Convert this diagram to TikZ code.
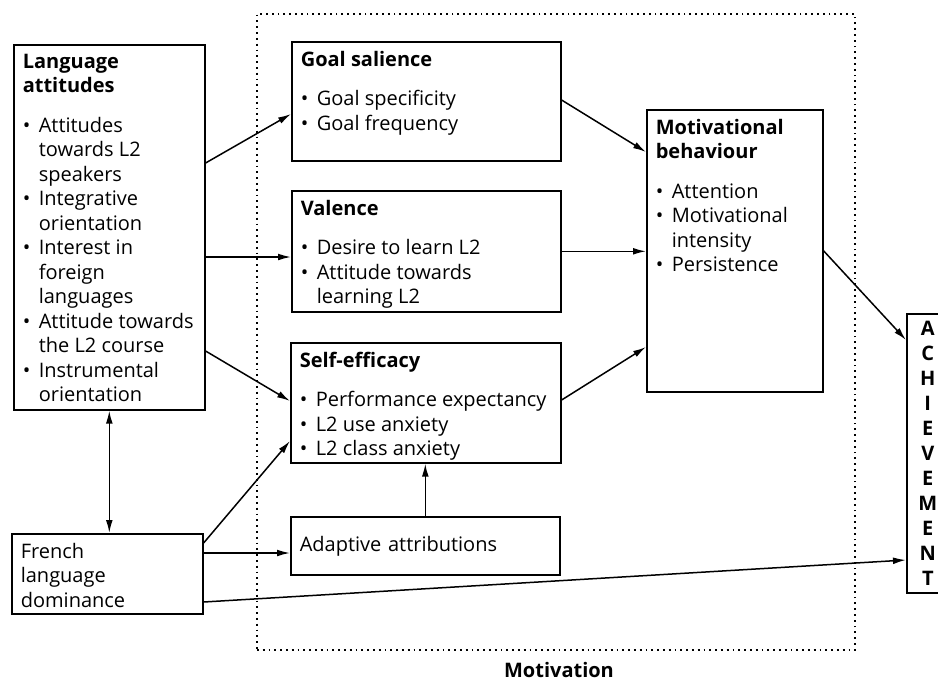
\documentclass[tikz,border=0pt]{standalone}
\usepackage{fontspec}
\setmainfont{Open Sans}
\usetikzlibrary{arrows.meta,calc}
\newcommand{\butir}{\makebox[8pt][l]{\textbullet}}
\newcommand{\sambung}{\hspace*{8pt}}

\begin{document}
\begin{tikzpicture}[x=0.5pt,y=-0.5pt,
    blok/.style={draw,line width=0.8pt,anchor=north west,inner sep=4.5pt,
      font=\fontsize{10pt}{12.25pt}\selectfont},
    panah/.style={-{Latex[length=6.5pt,width=3.4pt]},line width=0.75pt}]
  \useasboundingbox (0,0) rectangle (938,682);
  \clip (0,0) rectangle (938,682);
  % Bingkai motivasi
  \node[draw,dotted,line width=0.9pt,anchor=north west,inner sep=0pt,
    minimum width=299pt,minimum height=318pt] (motivasi) at (256,13) {};
  \node[font=\fontsize{10pt}{12pt}\selectfont\bfseries] (judul) at (559,670) {Motivation};
  % Faktor di kiri
  \node[blok] (bahasa) at (13,44) {\parbox[t][173.5pt][t]{86.5pt}{\raggedright
    \textbf{Language}\\\textbf{attitudes}\\[7.5pt]
    \butir Attitudes\\\sambung towards L2\\\sambung speakers\\
    \butir Integrative\\\sambung orientation\\
    \butir Interest in\\\sambung foreign\\\sambung languages\\
    \butir \mbox{Attitude towards}\\\sambung the L2 course\\
    \butir Instrumental\\\sambung orientation}};
  \node[blok] (prancis) at (11,533) {\parbox[t][31pt][t]{86.5pt}{\raggedright
    French\\language\\dominance}};
  % Komponen motivasi
  \node[blok] (sasaran) at (291,41) {\parbox[t][50.5pt][t]{125.5pt}{\raggedright
    \textbf{Goal salience}\\[7.5pt]
    \butir Goal specificity\\\butir Goal frequency}};
  \node[blok] (valensi) at (291,190) {\parbox[t][51.5pt][t]{125.5pt}{\raggedright
    \textbf{Valence}\\[7.5pt]
    \butir Desire to learn L2\\\butir \mbox{Attitude towards}\\\sambung learning L2}};
  \node[blok] (efikasi) at (290,342) {\parbox[t][51pt][t]{126pt}{\raggedright
    \textbf{Self-efficacy}\\[7.5pt]
    \butir \mbox{Performance expectancy}\\\butir L2 use anxiety\\\butir L2 class anxiety}};
  \node[blok,text width=125.5pt,minimum height=29pt,align=left] (atribusi) at (290,516)
    {Adaptive attributions};
  \node[blok] (perilaku) at (646,109) {\parbox[t][132pt][t]{79pt}{\raggedright
    \textbf{Motivational}\\\textbf{behaviour}\\[7.5pt]
    \butir Attention\\\butir Motivational\\\sambung intensity\\\butir Persistence}};
  % Hasil (sisi kanan terpotong tepi gambar)
  \node[blok,inner ysep=2pt,minimum width=21pt,minimum height=139.5pt,align=center,
    font=\fontsize{10pt}{12.5pt}\selectfont\bfseries] (prestasi) at (906,313)
    {A\\C\\H\\I\\E\\V\\E\\M\\E\\N\\T};
  % Panah
  \draw[panah] ($(bahasa.north east)+(0,119)$) -- ($(sasaran.north west)+(0,73)$);
  \draw[panah] ($(bahasa.north east)+(0,213)$) -- ($(valensi.north west)+(0,67)$);
  \draw[panah] ($(bahasa.north east)+(0,307)$) -- ($(efikasi.north west)+(0,59)$);
  \draw[{Latex[length=6.5pt,width=3.4pt]}-{Latex[length=6.5pt,width=3.4pt]},line width=0.75pt]
    (bahasa.south) -- (bahasa.south |- prancis.north);
  \draw[panah] ($(prancis.north east)+(0,10)$) -- ($(efikasi.north west)+(0,99)$);
  \draw[panah] ($(prancis.north east)+(0,20)$) -- ($(atribusi.north west)+(0,37)$);
  \draw[panah] ($(prancis.north east)+(0,69)$) -- ($(prestasi.north west)+(0,247)$);
  \draw[panah] (atribusi.north) -- (atribusi.north |- efikasi.south);
  \draw[panah] ($(sasaran.north east)+(0,59)$) -- ($(perilaku.north west)+(0,43)$);
  \draw[panah] (valensi.east) -- (valensi.east -| perilaku.west);
  \draw[panah] ($(efikasi.north east)+(0,58)$) -- ($(perilaku.north west)+(0,238)$);
  \draw[panah] (perilaku.east) -- ($(prestasi.north west)+(0,27)$);
\end{tikzpicture}
\end{document}
